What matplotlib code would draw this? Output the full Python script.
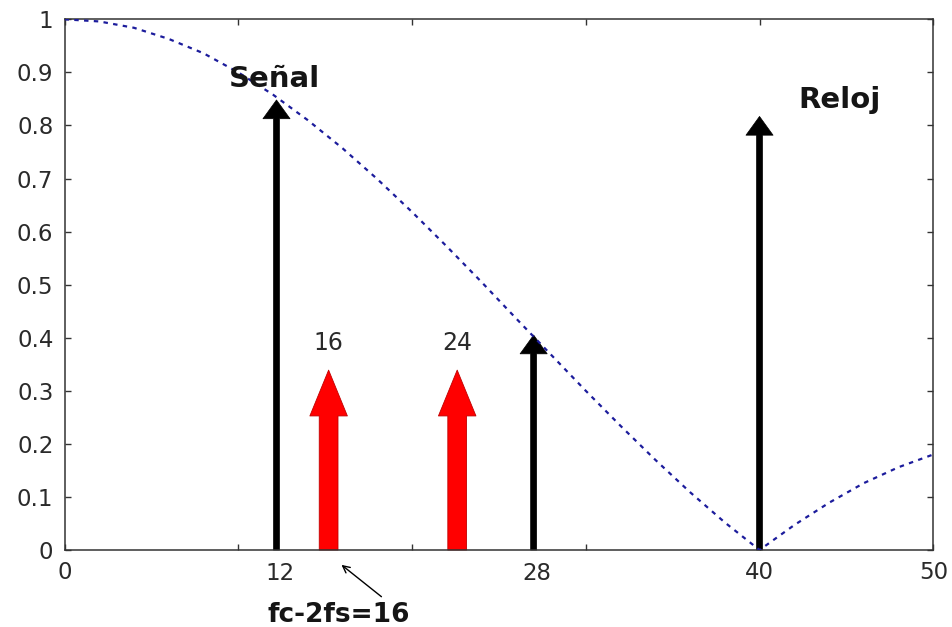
import matplotlib
matplotlib.use("Agg")
import matplotlib.pyplot as plt

# Envelope |sinc| of the hold filter (frequency axis, normalised magnitude)
freq = [0, 2, 4, 6, 8, 10, 12, 14, 16, 18, 20, 22, 24, 26, 28, 30,
        32, 34, 36, 38, 40, 42, 44, 46, 48, 50]
envelope = [1.00, 0.996, 0.984, 0.963, 0.936, 0.900, 0.858, 0.810, 0.757,
            0.699, 0.637, 0.572, 0.505, 0.436, 0.368, 0.300, 0.234, 0.170,
            0.109, 0.052, 0.0, 0.047, 0.089, 0.126, 0.156, 0.180]

# Spectral lines: signal, image and clock components
black_x = [12.2, 27.0, 40.0]
black_h = [0.848, 0.405, 0.817]
red_x = [15.2, 22.6]
red_h = [0.339, 0.339]
red_labels = ["16", "24"]

xtick_pos = [0, 10, 20, 30, 40, 50]
xtick_text = ["0", "", "", "", "40", "50"]
ytick_pos = [0, 0.1, 0.2, 0.3, 0.4, 0.5, 0.6, 0.7, 0.8, 0.9, 1.0]
ytick_text = ["0", "0.1", "0.2", "0.3", "0.4", "0.5", "0.6", "0.7", "0.8", "0.9", "1"]
axis_labels = [(12.4, "12"), (27.2, "28")]

fig = plt.figure(figsize=(9.53, 6.27), dpi=100)
ax = fig.add_axes([0.0677, 0.1228, 0.9116, 0.8464])
ax.set_xlim(0, 50)
ax.set_ylim(0, 1)

ax.plot(freq, envelope, color="#1c1c9c", lw=1.6, ls=(0, (2.0, 2.4)), zorder=3)

for x, h in zip(black_x, black_h):
    ax.annotate("", xy=(x, h), xytext=(x, 0),
                arrowprops=dict(arrowstyle="simple,head_length=13.5,head_width=19.5,tail_width=4.3",
                                mutation_scale=1, fc="black", ec="black", lw=0.5,
                                shrinkA=0, shrinkB=0), zorder=2)

for x, h, lab in zip(red_x, red_h, red_labels):
    ax.annotate("", xy=(x, h), xytext=(x, 0),
                arrowprops=dict(arrowstyle="simple,head_length=33,head_width=27,tail_width=13.5",
                                mutation_scale=1, fc="#ff0000", ec="#c00000", lw=0.6,
                                shrinkA=0, shrinkB=0), zorder=2)
    ax.text(x, 0.377, lab, ha="center", va="baseline", fontsize=17, color="#2a2a2a")

ax.text(12.1, 0.872, "Señal", ha="center", va="baseline", fontsize=21,
        fontweight="bold", color="#151515")
ax.text(44.6, 0.833, "Reloj", ha="center", va="baseline", fontsize=21,
        fontweight="bold", color="#151515")

xtr = ax.get_xaxis_transform()
for x, lab in axis_labels:
    ax.text(x, -0.022, lab, transform=xtr, ha="center", va="top",
            fontsize=16.5, color="#2a2a2a")

ax.annotate("fc-2fs=16", xy=(15.94, -0.028), xycoords=("data", "axes fraction"),
            xytext=(15.8, -0.135), textcoords=("data", "axes fraction"),
            ha="center", va="baseline", fontsize=19, fontweight="bold", color="#151515",
            annotation_clip=False)
ax.annotate("", xy=(15.94, -0.028), xycoords=("data", "axes fraction"),
            xytext=(18.24, -0.088), textcoords=("data", "axes fraction"),
            arrowprops=dict(arrowstyle="->,head_length=0.5,head_width=0.25",
                            color="black", lw=1.0, shrinkA=0, shrinkB=0),
            annotation_clip=False)

ax.set_xticks(xtick_pos)
ax.set_xticklabels(xtick_text)
ax.set_yticks(ytick_pos)
ax.set_yticklabels(ytick_text)
ax.tick_params(direction="in", length=4.5, width=1, top=True, right=True,
               labelsize=16.5, labelcolor="#2a2a2a", color="#333333", pad=8)
for s in ax.spines.values():
    s.set_color("#333333")
    s.set_linewidth(1.1)

fig.savefig("out.png", dpi=100, facecolor="white")
